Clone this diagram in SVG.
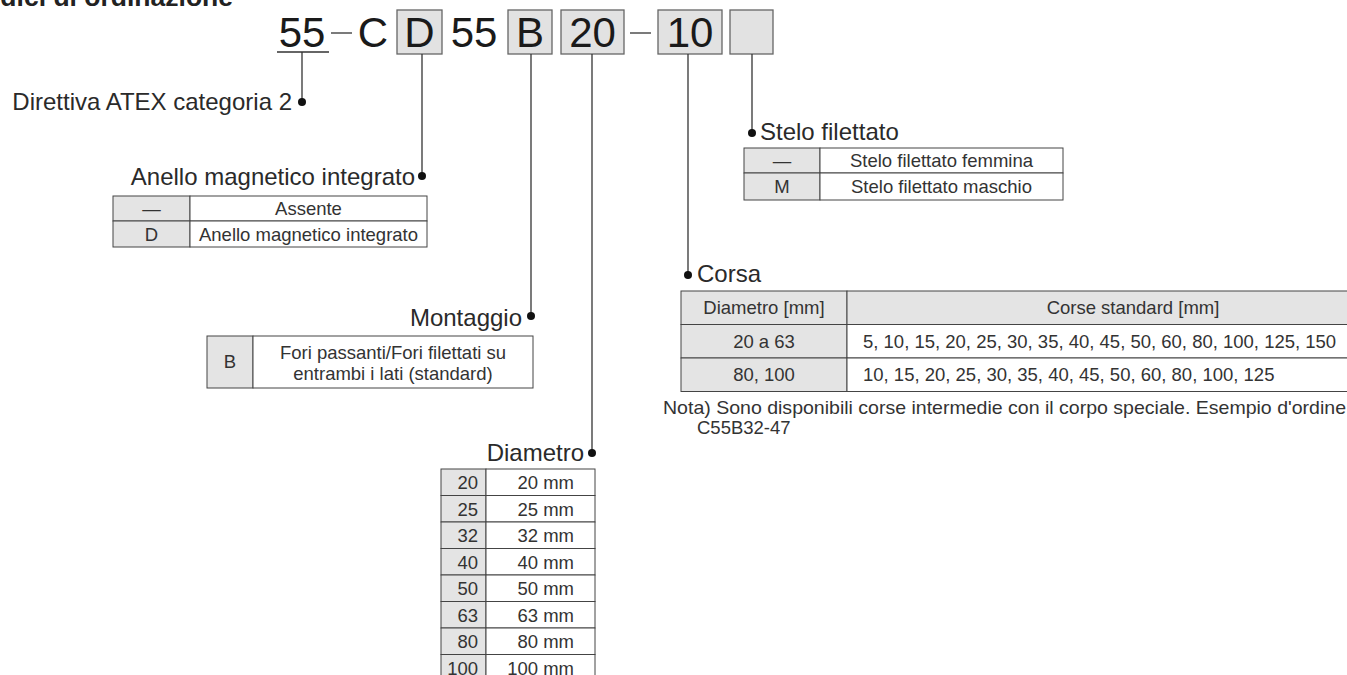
<svg xmlns="http://www.w3.org/2000/svg" width="1347" height="675" viewBox="0 0 1347 675">
<style>
text{font-family:"Liberation Sans",Arial,sans-serif;fill:#222}
.code{font-size:42px;text-anchor:middle;fill:#1a1a1a}
.lbl{font-size:24px;fill:#2a2a2a}
.t{font-size:18.5px;fill:#333}
.c{text-anchor:middle}
.r{text-anchor:end}
.box{fill:#e2e2e2;stroke:#666;stroke-width:1.3}
.cell{fill:#fff;stroke:#444;stroke-width:1}
.gcell{fill:#e4e4e4;stroke:#444;stroke-width:1}
.ln{stroke:#333;stroke-width:1.3;fill:none}
.dot{fill:#111}
</style>
<rect width="1347" height="675" fill="#fff"/>
<text x="233" y="6" font-size="26.5" font-weight="bold" text-anchor="end">Codici di ordinazione</text>

<g id="code">
<text class="code" x="302" y="47">55</text>
<line x1="277" y1="52" x2="329" y2="52" class="ln"/>
<line x1="331" y1="33" x2="352" y2="33" class="ln"/>
<text class="code" x="373" y="47">C</text>
<rect class="box" x="397" y="10" width="45" height="44"/>
<text class="code" x="419.5" y="47">D</text>
<text class="code" x="474" y="47">55</text>
<rect class="box" x="508" y="10" width="44" height="44"/>
<text class="code" x="530" y="47">B</text>
<rect class="box" x="561" y="10" width="63" height="44"/>
<text class="code" x="592.5" y="47">20</text>
<line x1="630" y1="33" x2="651" y2="33" class="ln"/>
<rect class="box" x="658" y="10" width="64" height="44"/>
<text class="code" x="690" y="47">10</text>
<rect class="box" x="730" y="10" width="43" height="44"/>
</g>

<g id="connectors">
<line x1="302" y1="52" x2="302" y2="102" class="ln"/>
<circle class="dot" cx="302" cy="102" r="4"/>
<line x1="422" y1="54" x2="422" y2="176" class="ln"/>
<circle class="dot" cx="422" cy="176" r="4"/>
<line x1="531" y1="54" x2="531" y2="316" class="ln"/>
<circle class="dot" cx="531" cy="316" r="4"/>
<line x1="592" y1="54" x2="592" y2="453" class="ln"/>
<circle class="dot" cx="592" cy="453" r="4"/>
<line x1="688" y1="54" x2="688" y2="275" class="ln"/>
<circle class="dot" cx="688" cy="275" r="4"/>
<line x1="752" y1="54" x2="752" y2="133" class="ln"/>
<circle class="dot" cx="752" cy="133" r="4"/>
</g>

<g id="atex">
<text class="lbl r" x="292" y="110">Direttiva ATEX categoria 2</text>
</g>

<g id="anello">
<text class="lbl r" x="415" y="185">Anello magnetico integrato</text>
<rect class="gcell" x="113" y="196" width="77" height="25"/>
<rect class="cell" x="190" y="196" width="237" height="25"/>
<rect class="gcell" x="113" y="221" width="77" height="26"/>
<rect class="cell" x="190" y="221" width="237" height="26"/>
<text class="t c" x="151.5" y="215">—</text>
<text class="t c" x="308.5" y="215">Assente</text>
<text class="t c" x="151.5" y="241">D</text>
<text class="t c" x="308.5" y="241">Anello magnetico integrato</text>
</g>

<g id="montaggio">
<text class="lbl r" x="522" y="326">Montaggio</text>
<rect class="gcell" x="207" y="336" width="46" height="52"/>
<rect class="cell" x="253" y="336" width="280" height="52"/>
<text class="t c" x="230" y="368">B</text>
<text class="t c" x="393" y="359">Fori passanti/Fori filettati su</text>
<text class="t c" x="393" y="380">entrambi i lati (standard)</text>
</g>

<g id="diametro">
<text class="lbl r" x="584" y="461">Diametro</text>
<rect class="gcell" x="441" y="469" width="45" height="26.5"/><rect class="cell" x="486" y="469" width="109" height="26.5"/>
<rect class="gcell" x="441" y="495.5" width="45" height="26.5"/><rect class="cell" x="486" y="495.5" width="109" height="26.5"/>
<rect class="gcell" x="441" y="522" width="45" height="26.5"/><rect class="cell" x="486" y="522" width="109" height="26.5"/>
<rect class="gcell" x="441" y="548.5" width="45" height="26.5"/><rect class="cell" x="486" y="548.5" width="109" height="26.5"/>
<rect class="gcell" x="441" y="575" width="45" height="26.5"/><rect class="cell" x="486" y="575" width="109" height="26.5"/>
<rect class="gcell" x="441" y="601.5" width="45" height="26.5"/><rect class="cell" x="486" y="601.5" width="109" height="26.5"/>
<rect class="gcell" x="441" y="628" width="45" height="26.5"/><rect class="cell" x="486" y="628" width="109" height="26.5"/>
<rect class="gcell" x="441" y="654.5" width="45" height="26.5"/><rect class="cell" x="486" y="654.5" width="109" height="26.5"/>
<text class="t r" x="478" y="489">20</text><text class="t r" x="574" y="489">20 mm</text>
<text class="t r" x="478" y="515.5">25</text><text class="t r" x="574" y="515.5">25 mm</text>
<text class="t r" x="478" y="542">32</text><text class="t r" x="574" y="542">32 mm</text>
<text class="t r" x="478" y="568.5">40</text><text class="t r" x="574" y="568.5">40 mm</text>
<text class="t r" x="478" y="595">50</text><text class="t r" x="574" y="595">50 mm</text>
<text class="t r" x="478" y="621.5">63</text><text class="t r" x="574" y="621.5">63 mm</text>
<text class="t r" x="478" y="648">80</text><text class="t r" x="574" y="648">80 mm</text>
<text class="t r" x="478" y="674.5">100</text><text class="t r" x="574" y="674.5">100 mm</text>
</g>

<g id="stelo">
<text class="lbl" x="760" y="140">Stelo filettato</text>
<rect class="gcell" x="744" y="148" width="76" height="25"/>
<rect class="cell" x="820" y="148" width="243" height="25"/>
<rect class="gcell" x="744" y="173" width="76" height="27"/>
<rect class="cell" x="820" y="173" width="243" height="27"/>
<text class="t c" x="782" y="167">—</text>
<text class="t c" x="941.5" y="167">Stelo filettato femmina</text>
<text class="t c" x="782" y="193">M</text>
<text class="t c" x="941.5" y="193">Stelo filettato maschio</text>
</g>

<g id="corsa">
<text class="lbl" x="697" y="282">Corsa</text>
<rect class="gcell" x="681" y="291" width="166" height="33.5"/>
<rect class="gcell" x="847" y="291" width="573" height="33.5"/>
<rect class="gcell" x="681" y="324.5" width="166" height="33.5"/>
<rect class="cell" x="847" y="324.5" width="573" height="33.5"/>
<rect class="gcell" x="681" y="358" width="166" height="33.5"/>
<rect class="cell" x="847" y="358" width="573" height="33.5"/>
<text class="t c" x="764" y="314">Diametro [mm]</text>
<text class="t c" x="1133" y="314">Corse standard [mm]</text>
<text class="t c" x="764" y="348">20 a 63</text>
<text class="t" x="863" y="348">5, 10, 15, 20, 25, 30, 35, 40, 45, 50, 60, 80, 100, 125, 150</text>
<text class="t c" x="764" y="381">80, 100</text>
<text class="t" x="863" y="381">10, 15, 20, 25, 30, 35, 40, 45, 50, 60, 80, 100, 125</text>
<text class="t" x="663" y="414" font-size="19" textLength="683" lengthAdjust="spacingAndGlyphs">Nota) Sono disponibili corse intermedie con il corpo speciale. Esempio d'ordine</text>
<text class="t" x="697" y="434" font-size="19">C55B32-47</text>
</g>
</svg>
